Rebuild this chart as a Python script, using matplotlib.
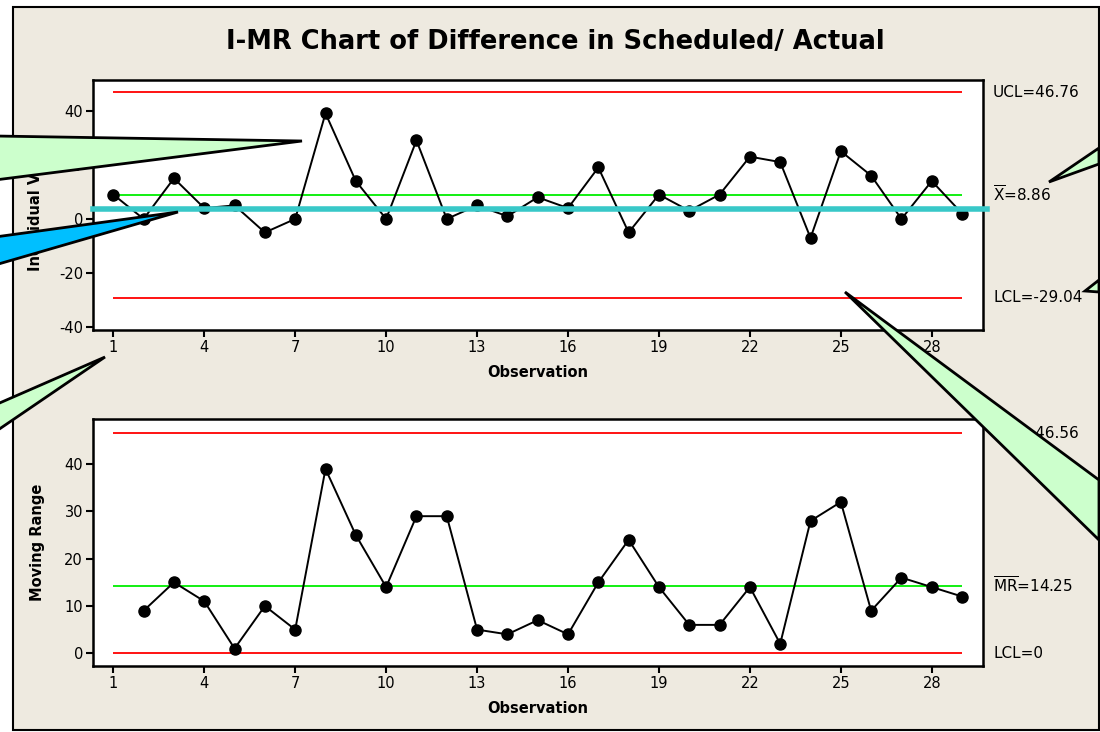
import matplotlib
matplotlib.use('Agg')
import matplotlib.pyplot as plt
from matplotlib.patches import Polygon, Rectangle

plt.rcParams['axes.unicode_minus'] = False

# data
observations = list(range(1, 30))
individual = [9, 0, 15, 4, 5, -5, 0, 39, 14, 0, 29, 0, 5, 1, 8, 4, 19, -5, 9, 3,
              9, 23, 21, -7, 25, 16, 0, 14, 2]
mr_obs = list(range(2, 30))
moving_range = [9, 15, 11, 1, 10, 5, 39, 25, 14, 29, 29, 5, 4, 7, 4, 15, 24, 14, 6, 6,
                14, 2, 28, 32, 9, 16, 14, 12]

i_ucl, i_mean, i_lcl = 46.76, 8.86, -29.04
mr_ucl, mr_mean, mr_lcl = 46.56, 14.25, 0
highlight_level = 3.6   # hand drawn cyan line on the I chart

xticks = list(range(1, 29, 3))
W, H = 1100, 732

fig = plt.figure(figsize=(11, 7.32), dpi=100)
fig.patch.set_facecolor('white')

def px(x, y):
    return (x / W, 1 - y / H)

# beige panel with black frame
frame = Rectangle(px(12.5, 730), 1086.5 / W, 723 / H, transform=fig.transFigure,
                  facecolor='#EEEAE0', edgecolor='black', linewidth=1.5, zorder=-5)
fig.patches.append(frame)

fig.text(555 / W, 1 - 42 / H, 'I-MR Chart of Difference in Scheduled/ Actual',
         ha='center', va='center', fontsize=18.5, fontweight='bold')

ax1 = fig.add_axes([92.7 / W, 1 - 330 / H, 890 / W, 250 / H])
ax2 = fig.add_axes([92.7 / W, 1 - 666 / H, 890 / W, 246.7 / H])


def style(ax, ylim, yticks, ylabel):
    ax.set_facecolor('white')
    ax.set_xlim(0.32, 29.68)
    ax.set_ylim(*ylim)
    ax.set_xticks(xticks)
    ax.set_yticks(yticks)
    ax.tick_params(direction='out', length=5, width=1.5, labelsize=10.5, pad=2)
    for s in ax.spines.values():
        s.set_linewidth(1.8)
    ax.set_xlabel('Observation', fontsize=10.5, fontweight='bold')
    ax.xaxis.set_label_coords(0.5, -0.14)
    ax.set_ylabel(ylabel, fontsize=10.5, fontweight='bold')


style(ax1, (-41, 51.3), [-40, -20, 0, 20, 40], 'Individual Value')
style(ax2, (-2.7, 49.5), [0, 10, 20, 30, 40], 'Moving Range')
ax1.yaxis.set_label_coords(-0.056, 0.5)
ax2.yaxis.set_label_coords(-0.054, 0.5)

# I chart
ax1.hlines([i_ucl, i_lcl], 1, 29, color='#FF0000', linewidth=1.3)
ax1.hlines(i_mean, 1, 29, color='#00EE00', linewidth=1.3)
ax1.plot(observations, individual, color='black', linewidth=1.4, marker='o',
         markersize=8)
ax1.axhline(highlight_level, xmin=0, xmax=1.005, color='#38C8C8', linewidth=4,
            clip_on=False, zorder=5)

# MR chart
ax2.hlines([mr_ucl, mr_lcl], 1, 29, color='#FF0000', linewidth=1.3)
ax2.hlines(mr_mean, 1, 29, color='#00EE00', linewidth=1.3)
ax2.plot(mr_obs, moving_range, color='black', linewidth=1.4, marker='o',
         markersize=8)

lab = dict(fontsize=11, va='center', ha='left')
ax1.text(1.0116, i_ucl, 'UCL=46.76', transform=ax1.get_yaxis_transform(), **lab)
ax1.text(1.0116, i_mean, r'$\overline{\mathrm{X}}$=8.86', transform=ax1.get_yaxis_transform(), **lab)
ax1.text(1.0116, i_lcl, 'LCL=-29.04', transform=ax1.get_yaxis_transform(), **lab)
ax2.text(1.0116, mr_ucl, 'UCL=46.56', transform=ax2.get_yaxis_transform(), **lab)
ax2.text(1.0116, mr_mean, r'$\overline{\mathrm{MR}}$=14.25', transform=ax2.get_yaxis_transform(), **lab)
ax2.text(1.0116, mr_lcl, 'LCL=0', transform=ax2.get_yaxis_transform(), **lab)

# callout pointers drawn over the chart (pixel positions)
callouts = [
    ([(-5, 136), (302, 141), (-5, 180)], '#CCFFCC'),
    ([(-5, 237), (178, 212), (-5, 265)], '#00BFFF'),
    ([(-5, 405), (105, 357), (-5, 432)], '#CCFFCC'),
    ([(1049, 182), (1099, 148), (1099, 164)], '#CCFFCC'),
    ([(1085, 291), (1099, 280), (1099, 292)], '#CCFFCC'),
    ([(845, 292), (1099, 480), (1099, 540)], '#CCFFCC'),
]
for pts, col in callouts:
    poly = Polygon([px(x, y) for x, y in pts], closed=True, transform=fig.transFigure,
                   facecolor=col, edgecolor='black', linewidth=2, zorder=10)
    fig.patches.append(poly)

fig.savefig('out.png', dpi=100)
